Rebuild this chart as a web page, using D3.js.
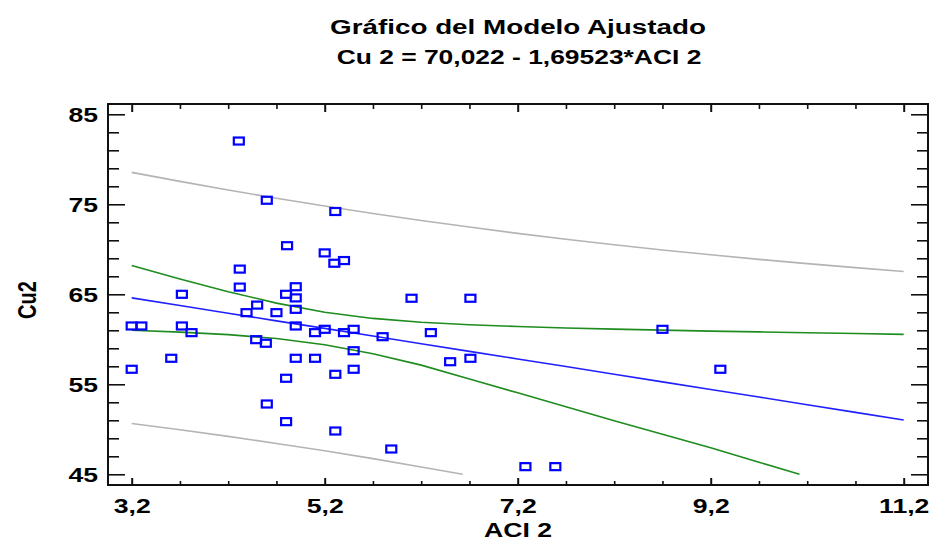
<!DOCTYPE html>
<html><head><meta charset="utf-8">
<script src="https://cdn.jsdelivr.net/npm/d3@7"></script>
<style>
body{margin:0;background:#fff}
svg{display:block;background:#fff}
text{font-family:"Liberation Sans",Arial,sans-serif;font-weight:bold;fill:#000}
</style>
</head><body><svg id="c" width="931" height="543"></svg>
<script>
// ---- data ----
const titleLines = ["Gráfico del Modelo Ajustado", "Cu 2 = 70,022 - 1,69523*ACI 2"];
const xLabel = "ACI 2";
const yLabel = "Cu2";

const aci2 = [4.31,4.60,5.31,4.81,5.20,5.30,5.40,4.32,4.32,3.72,4.39,4.50,4.80,4.90,4.90,4.70,4.90,4.90,5.20,5.10,
              5.40,5.50,5.80,5.50,3.20,3.30,3.72,3.82,4.49,4.59,3.61,3.20,4.90,5.10,4.80,5.31,5.50,4.60,4.80,5.31,
              5.89,6.10,6.71,6.30,6.50,6.71,8.70,9.30,7.28,7.59];
const cu2  = [82.03,75.45,74.20,70.40,69.60,68.45,68.75,67.80,65.80,65.00,62.96,63.80,65.00,65.84,64.60,62.96,63.33,61.48,61.11,60.74,
              60.74,61.11,60.29,58.73,61.48,61.48,61.48,60.74,59.96,59.56,57.89,56.67,57.89,57.89,55.67,56.11,56.67,52.81,50.85,49.81,
              47.81,64.56,64.56,60.74,57.51,57.89,61.11,56.67,45.85,45.85];

const bandX      = [3.2,3.7,4.2,4.7,5.2,5.7,6.2,6.7,7.2,7.7,8.2,8.7,9.2,9.7,10.2,10.7,11.2];
const fitY       = [64.60,63.75,62.90,62.05,61.21,60.36,59.51,58.66,57.82,56.97,56.12,55.27,54.43,53.58,52.73,51.88,51.04];
const confUpperY = [68.20,66.70,65.29,64.02,63.01,62.32,61.90,61.62,61.42,61.26,61.13,61.02,60.91,60.82,60.73,60.64,60.55];
const predUpperY = [78.55,77.55,76.59,75.68,74.81,73.98,73.20,72.47,71.77,71.12,70.50,69.93,69.39,68.88,68.41,67.96,67.54];
const confLowerX = [3.2,3.7,4.2,4.7,5.2,5.7,6.2,6.7,7.2,7.7,8.2,8.7,9.2,9.7,10.12];
const confLowerY = [61.00,60.80,60.52,60.09,59.40,58.39,57.13,55.60,54.05,52.50,50.95,49.45,47.94,46.34,45.00];
const predLowerX = [3.2,3.7,4.2,4.7,5.2,5.7,6.2,6.63];
const predLowerY = [50.64,49.95,49.21,48.43,47.61,46.74,45.82,45.00];

const xTicks = [3.2,3.7,4.2,4.7,5.2,5.7,6.2,6.7,7.2,7.7,8.2,8.7,9.2,9.7,10.2,10.7,11.2];
const xMajor = [3.2,5.2,7.2,9.2,11.2];
const yTicks = [45,47,49,51,53,55,57,59,61,63,65,67,69,71,73,75,77,79,81,83,85];
const yMajor = [45,55,65,75,85];

// ---- layout ----
const W = 931, H = 543;
const frame = {left:108, right:928, top:104, bottom:485};
const svg = d3.select("#c");
const x = d3.scaleLinear().domain([3.2, 11.2]).range([131.7, 903.7]);
const y = d3.scaleLinear().domain([45, 85]).range([474.3, 114.3]);
const loc = d3.formatLocale({decimal: ",", thousands: ".", grouping: [3], currency: ["", ""]});
const fmtX = loc.format(".1f");
const isMajX = d => xMajor.some(v => Math.abs(v - d) < 1e-9);
const isMajY = d => yMajor.includes(d);
const STRETCH = 1.33;

function stretch(sel, k) {
  sel.each(function() {
    const len = this.getComputedTextLength();
    if (len > 0) d3.select(this).attr("textLength", len * k).attr("lengthAdjust", "spacingAndGlyphs");
  });
}

// titles
svg.append("text").attr("x", 518).attr("y", 34).attr("text-anchor", "middle")
  .attr("font-size", 20).text(titleLines[0]).call(stretch, 1.39);
svg.append("text").attr("x", 519).attr("y", 64).attr("text-anchor", "middle")
  .attr("font-size", 20).text(titleLines[1]).call(stretch, 1.32);

// axes
const gB = svg.append("g").attr("transform", `translate(0,${frame.bottom})`)
  .call(d3.axisBottom(x).tickValues(xTicks).tickSize(0).tickFormat(d => isMajX(d) ? fmtX(d) : ""));
gB.selectAll(".tick line").attr("y2", d => isMajX(d) ? -7 : -4).attr("stroke", "#111").attr("stroke-width", d => isMajX(d) ? 2 : 1.6);
gB.selectAll(".tick text").attr("y", 28).attr("dy", 0).attr("font-size", 20).call(stretch, STRETCH);

const gT = svg.append("g").attr("transform", `translate(0,${frame.top})`)
  .call(d3.axisTop(x).tickValues(xTicks).tickSize(0).tickFormat(""));
gT.selectAll(".tick line").attr("y2", d => isMajX(d) ? 8 : 5).attr("stroke", "#111").attr("stroke-width", d => isMajX(d) ? 2 : 1.6);

const gL = svg.append("g").attr("transform", `translate(${frame.left},0)`)
  .call(d3.axisLeft(y).tickValues(yTicks).tickSize(0).tickFormat(d => isMajY(d) ? String(d) : ""));
gL.selectAll(".tick line").attr("x2", d => isMajY(d) ? 17 : 11).attr("stroke", "#111").attr("stroke-width", 1.6);
gL.selectAll(".tick text").attr("x", -10).attr("dy", "0.36em").attr("font-size", 20).call(stretch, STRETCH);

const gR = svg.append("g").attr("transform", `translate(${frame.right},0)`)
  .call(d3.axisRight(y).tickValues(yTicks).tickSize(0).tickFormat(""));
gR.selectAll(".tick line").attr("x2", d => isMajY(d) ? -17 : -11).attr("stroke", "#111").attr("stroke-width", 1.6);

svg.selectAll(".domain").remove();

// frame
svg.append("rect").attr("x", frame.left).attr("y", frame.top)
  .attr("width", frame.right - frame.left).attr("height", frame.bottom - frame.top)
  .attr("fill", "none").attr("stroke", "#111").attr("stroke-width", 2);

// axis titles
svg.append("text").attr("x", 518).attr("y", 537).attr("text-anchor", "middle")
  .attr("font-size", 20).text(xLabel).call(stretch, STRETCH);
svg.append("text").attr("transform", "translate(36,300) scale(1.33,1) rotate(-90)")
  .attr("text-anchor", "middle").attr("font-size", 20).text(yLabel);

// lines
const line = d3.line().x(d => x(d[0])).y(d => y(d[1]));
const zip = (a, b) => a.map((v, i) => [v, b[i]]);
const series = [
  {xs: bandX, ys: predUpperY, color: "#b4b4b4"},
  {xs: predLowerX, ys: predLowerY, color: "#b4b4b4"},
  {xs: bandX, ys: confUpperY, color: "#1e8c1e"},
  {xs: confLowerX, ys: confLowerY, color: "#1e8c1e"},
  {xs: bandX, ys: fitY, color: "#2020ff"}
];
svg.append("g").selectAll("path").data(series).join("path")
  .attr("d", s => line(zip(s.xs, s.ys)))
  .attr("fill", "none").attr("stroke", s => s.color).attr("stroke-width", 1.6);

// points
const mw = 10, mh = 7;
svg.append("g").selectAll("rect").data(zip(aci2, cu2)).join("rect")
  .attr("x", d => x(d[0]) - mw / 2).attr("y", d => y(d[1]) - mh / 2)
  .attr("width", mw).attr("height", mh)
  .attr("fill", "none").attr("stroke", "#0000ff").attr("stroke-width", 2.2);
</script></body></html>
